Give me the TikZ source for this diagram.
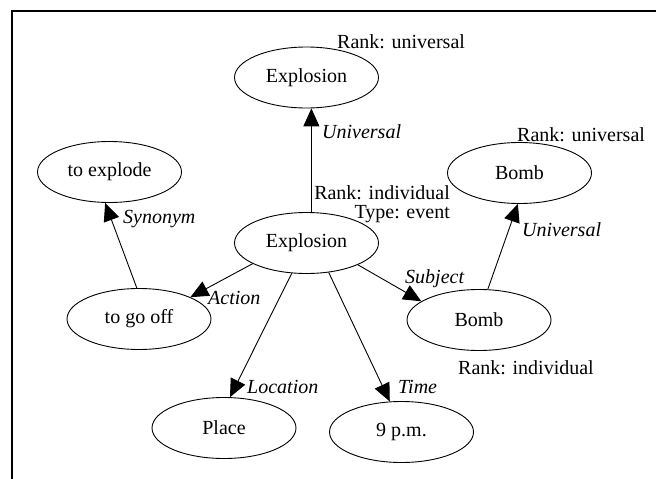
\documentclass[tikz,border=0pt]{standalone}
\usepackage{fontspec}
\setmainfont{Liberation Serif}
\usetikzlibrary{arrows.meta,shapes.geometric}
\begin{document}
\begin{tikzpicture}[x=1pt,y=-1pt,
  concept/.style={draw, ellipse, line width=0.9pt, minimum width=144pt, minimum height=61pt, inner sep=0pt, font=\fontsize{20}{24}\selectfont},
  rel/.style={draw, line width=0.9pt, -{Triangle[length=18pt,width=16pt]}},
  elabel/.style={anchor=base west, inner sep=0pt, font=\fontsize{20}{24}\selectfont\itshape},
  note/.style={inner sep=0pt, font=\fontsize{20}{24}\selectfont},
  frameline/.style={line width=2pt}]
\useasboundingbox (0,0) rectangle (656,479);
\clip (0,0) rectangle (656,479);
\coordinate (fb) at (12,485);
\coordinate (fc) at (12,10.5);
\coordinate (fr) at (665,10.5);
\draw[frameline] (fb) -- (fc) -- (fr);

\node[concept] (ext) at (306.5,77.5) {Explosion};
\node[concept] (texp) at (109.5,172) {to explode};
\node[concept] (bombt) at (519.5,173) {Bomb};
\node[concept] (exc) at (306.5,243) {Explosion};
\node[concept] (gooff) at (139,319) {to go off};
\node[concept] (bombm) at (479,320) {Bomb};
\node[concept] (place) at (224,428) {Place};
\node[concept] (pm) at (401.5,432) {9 p.m.};

\node[note, anchor=base west] (rut) at (337,48.5) {Rank: universal};
\node[note, anchor=base west] (rub) at (517,141.5) {Rank: universal};
\node[note, anchor=base east] (rie) at (450,199.5) {Rank: individual};
\node[note, anchor=base east] (tev) at (450,218.5) {Type: event};
\node[note, anchor=base west] (rib) at (458,374.5) {Rank: individual};

\draw[rel] (exc.81) -- (ext.-81);
\draw[rel] (gooff.94) -- (texp.262);
\draw[rel] (exc.201) -- (gooff.23);
\draw[rel] (exc.-23) -- (bombm.162);
\draw[rel] (bombm.74) -- (bombt.267);
\draw[rel] (exc.244) -- (place.79);
\draw[rel] (exc.-53) -- (pm.111);

\node[elabel] (l1) at (322,138.5) {Universal};
\node[elabel] (l2) at (123,223) {Synonym};
\node[elabel] (l3) at (522,236.5) {Universal};
\node[elabel] (l4) at (208,304.5) {Action};
\node[elabel] (l5) at (405,283.5) {Subject};
\node[elabel] (l6) at (247,393.5) {Location};
\node[elabel] (l7) at (398,393.5) {Time};
\end{tikzpicture}
\end{document}
